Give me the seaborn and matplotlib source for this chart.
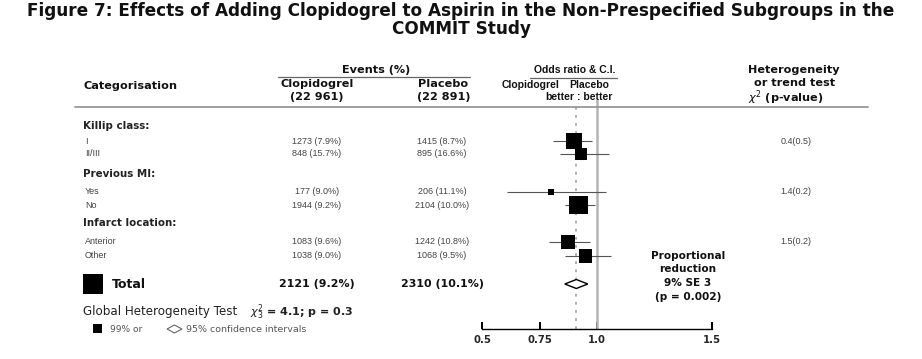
import numpy as np
import pandas as pd
import matplotlib
matplotlib.use("Agg")
import matplotlib.pyplot as plt
from matplotlib.patches import Rectangle, Polygon
import seaborn as sns

# ---------------- data ----------------
group_names = ["Killip class:", "Previous MI:", "Infarct location:"]
row_labels = ["I", "II/III", "Yes", "No", "Anterior", "Other"]
clop_events = [1273, 848, 177, 1944, 1083, 1038]
clop_pct = [7.9, 15.7, 9.0, 9.2, 9.6, 9.0]
plac_events = [1415, 895, 206, 2104, 1242, 1068]
plac_pct = [8.7, 16.6, 11.1, 10.0, 10.8, 9.5]
odds_ratio = [0.90, 0.93, 0.80, 0.92, 0.875, 0.95]
ci_low = [0.81, 0.84, 0.61, 0.86, 0.79, 0.86]
ci_high = [0.98, 1.05, 1.04, 0.99, 0.97, 1.06]
het_text = ["0.4(0.5)", "1.4(0.2)", "1.5(0.2)"]
total_clop = "2121 (9.2%)"
total_plac = "2310 (10.1%)"
total_or, total_lo, total_hi = 0.91, 0.86, 0.96
xticks = [0.5, 0.75, 1.0, 1.5]
xtick_labels = ["0.5", "0.75", "1.0", "1.5"]

# ---------------- layout (pixels) ----------------
W, H = 922, 359
group_y = [126, 174, 223]
row_y = [141, 154, 192, 205, 242, 256]
het_y = [141, 192, 242]
total_y = 284

def fx(x):
    return x / W

def fy(y):
    return 1 - y / H

sns.set_theme(style="white")
plt.rcParams["font.family"] = ["DejaVu Sans"]
plt.rcParams["mathtext.fontset"] = "dejavusans"

NARROW = ["Liberation Sans", "DejaVu Sans"]

fig = plt.figure(figsize=(W / 100, H / 100), dpi=100)
fig.patch.set_facecolor("white")

# forest axes: x = odds ratio (linear), y = pixel rows
ax_left, ax_right, ax_top, ax_bot = 482, 712, 100, 329
ax = fig.add_axes([fx(ax_left), fy(ax_bot), (ax_right - ax_left) / W, (ax_bot - ax_top) / H])
ax.set_xlim(0.5, 1.5)
ax.set_ylim(ax_bot, ax_top)
ax.patch.set_alpha(0)
for s in ["top", "left", "right"]:
    ax.spines[s].set_visible(False)
ax.spines["bottom"].set_color("black")
ax.spines["bottom"].set_linewidth(1.0)
ax.set_yticks([])
ax.set_xticks(xticks)
ax.set_xticklabels(xtick_labels, fontsize=7.3, fontweight="bold")
ax.tick_params(axis="x", direction="in", length=5, width=1.4, color="black", pad=4, bottom=True)

# reference lines
ax.axvline(1.0, ymin=0, ymax=1, color="#b5b5b5", lw=1.8, zorder=1)
ax.plot([total_or, total_or], [ax_bot, 104], color="#a8a8a8", lw=1.3, ls=(0, (1.5, 3)), zorder=1)

df = pd.DataFrame({
    "label": row_labels, "y": row_y, "or": odds_ratio, "lo": ci_low, "hi": ci_high,
    "events": np.array(clop_events) + np.array(plac_events),
})
# marker area proportional to number of events
df["width_px"] = 0.29 * np.sqrt(df["events"])
df["s"] = (df["width_px"] / 1.389) ** 2

ax.hlines(df["y"], df["lo"], df["hi"], color="#555555", lw=0.8, zorder=2)
sns.scatterplot(data=df, x="or", y="y", s=df["s"], marker="s", color="black",
                edgecolor="black", linewidth=0, ax=ax, legend=False, zorder=3)
ax.set_xlabel("")
ax.set_ylabel("")

# total diamond
dia = Polygon([[total_lo, total_y], [total_or, total_y - 4.5], [total_hi, total_y], [total_or, total_y + 4.5]],
              closed=True, facecolor="white", edgecolor="black", lw=1.0, zorder=4)
ax.add_patch(dia)

# ---------------- text ----------------
fig.text(0.5, fy(11), "Figure 7: Effects of Adding Clopidogrel to Aspirin in the Non-Prespecified Subgroups in the",
         ha="center", va="center", fontsize=12.2, fontweight="bold", color="#111111")
fig.text(0.5, fy(29), "COMMIT Study", ha="center", va="center", fontsize=12.2, fontweight="bold", color="#111111")

hdr = dict(fontsize=8.1, fontweight="bold", color="#111111")
fig.text(fx(83), fy(86), "Categorisation", ha="left", va="center", **hdr)
fig.text(fx(376), fy(70), "Events (%)", ha="center", va="center", **hdr)
fig.add_artist(plt.Line2D([fx(278), fx(470)], [fy(77), fy(77)], color="#666666", lw=0.9))
fig.text(fx(317), fy(84), "Clopidogrel", ha="center", va="center", **hdr)
fig.text(fx(317), fy(97), "(22 961)", ha="center", va="center", **hdr)
fig.text(fx(443), fy(84), "Placebo", ha="center", va="center", **hdr)
fig.text(fx(444), fy(97), "(22 891)", ha="center", va="center", **hdr)

orh = dict(fontsize=7.5, fontweight="bold", color="#111111", family=NARROW)
fig.text(fx(575), fy(70), "Odds ratio & C.I.", ha="center", va="center", **orh)
fig.add_artist(plt.Line2D([fx(530), fx(617)], [fy(78), fy(78)], color="#666666", lw=0.9))
fig.text(fx(560), fy(85), "Clopidogrel", ha="right", va="center", **orh)
fig.text(fx(569), fy(85), "Placebo", ha="left", va="center", **orh)
fig.text(fx(574), fy(97), "better", ha="right", va="center", **orh)
fig.text(fx(577), fy(97), ": better", ha="left", va="center", **orh)

fig.text(fx(794), fy(70), "Heterogeneity", ha="center", va="center", **hdr)
fig.text(fx(795), fy(83), "or trend test", ha="center", va="center", **hdr)
fig.text(fx(786), fy(98), r"$\chi^2$ (p-value)", ha="center", va="center", **hdr)

fig.add_artist(plt.Line2D([fx(75), fx(868)], [fy(107), fy(107)], color="#999999", lw=1.3))

small = dict(fontsize=6.5, color="#444444", family=NARROW)
for gi, g in enumerate(group_names):
    fig.text(fx(83), fy(group_y[gi]), g, ha="left", va="center", fontsize=7.4, fontweight="bold", color="#222222")
    fig.text(fx(796), fy(het_y[gi]), het_text[gi], ha="center", va="center", **small)
for i, lab in enumerate(row_labels):
    yy = fy(row_y[i])
    fig.text(fx(85), yy, lab, ha="left", va="center", **small)
    fig.text(fx(317), yy, f"{clop_events[i]} ({clop_pct[i]:.1f}%)", ha="center", va="center", **small)
    fig.text(fx(442), yy, f"{plac_events[i]} ({plac_pct[i]:.1f}%)", ha="center", va="center", **small)

# total row
fig.add_artist(Rectangle((fx(83), fy(294)), 20 / W, 20 / H, transform=fig.transFigure,
                         facecolor="black", edgecolor="none"))
fig.text(fx(112), fy(total_y), "Total", ha="left", va="center", fontsize=9, fontweight="bold", color="#111111")
fig.text(fx(317), fy(total_y), total_clop, ha="center", va="center", fontsize=7.9, fontweight="bold", color="#111111")
fig.text(fx(442), fy(total_y), total_plac, ha="center", va="center", fontsize=7.9, fontweight="bold", color="#111111")

# proportional reduction
for t, yy in zip(["Proportional", "reduction", "9% SE 3", "(p = 0.002)"], [256, 269, 283, 297]):
    fig.text(fx(688), fy(yy), t, ha="center", va="center", fontsize=7.6, fontweight="bold", color="#111111")

# global heterogeneity
fig.text(fx(83), fy(312), "Global Heterogeneity Test", ha="left", va="center", fontsize=8.6, color="#222222")
fig.text(fx(250), fy(312), r"$\chi^2_3$ = 4.1; p = 0.3", ha="left", va="center", fontsize=8.0,
         fontweight="bold", color="#222222")

# legend
fig.add_artist(Rectangle((fx(93), fy(333)), 9 / W, 9 / H, transform=fig.transFigure,
                         facecolor="black", edgecolor="none"))
fig.text(fx(110), fy(329), "99% or", ha="left", va="center", fontsize=6.5, color="#555555")
fig.add_artist(Polygon([[fx(167), fy(329)], [fx(174.5), fy(325)], [fx(182), fy(329)], [fx(174.5), fy(333)]],
                       closed=True, transform=fig.transFigure, facecolor="white", edgecolor="#666666", lw=0.8))
fig.text(fx(186), fy(329), "95% confidence intervals", ha="left", va="center", fontsize=6.8, color="#555555")

fig.savefig("out.png", dpi=100)
